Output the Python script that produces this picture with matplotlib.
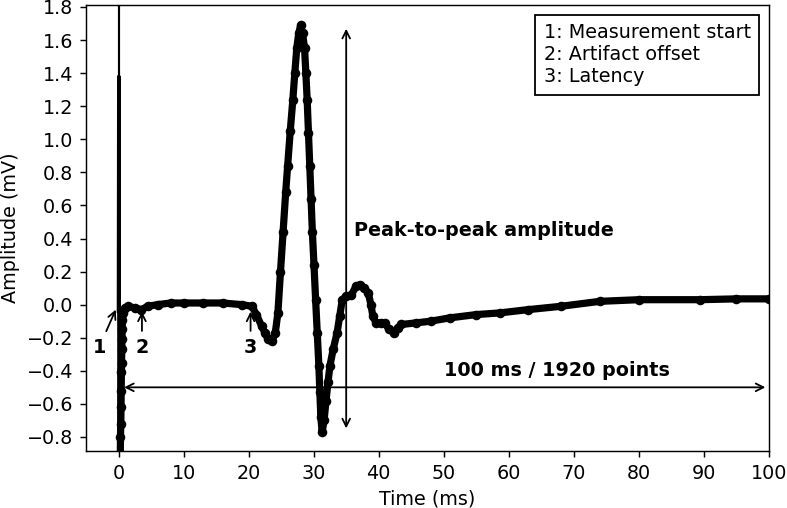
import numpy as np
import matplotlib
matplotlib.use("Agg")
import matplotlib.pyplot as plt
from matplotlib.ticker import MultipleLocator
from matplotlib.offsetbox import AnchoredText

# MEP trace (time in ms, amplitude in mV)
t_ms = [0.0, 0.05, 0.1, 0.2, 0.3, 0.35, 0.38, 0.41, 0.44, 0.47, 0.5, 0.53,
        0.56, 0.6, 0.7, 1.0, 1.5, 2.5, 3.5, 4.5, 6.0, 8.0, 10.0, 13.0, 16.0,
        19.0, 20.5, 21.2, 22.0, 22.5, 23.0, 23.6, 24.1, 24.5, 24.9, 25.3, 25.7,
        26.0, 26.4, 26.8, 27.1, 27.4, 27.7, 28.0, 28.3, 28.6, 28.8, 29.0, 29.2,
        29.4, 29.6, 29.8, 30.05, 30.3, 30.55, 30.8, 30.95, 31.1, 31.3, 31.6,
        31.9, 32.2, 32.5, 33.0, 33.6, 34.0, 34.4, 35.0, 35.8, 36.5, 37.1, 37.8,
        38.4, 38.8, 39.1, 39.6, 40.3, 40.9, 41.6, 42.3, 42.9, 43.5, 45.8, 48.0,
        50.9, 55.0, 58.6, 63.0, 68.0, 74.0, 80.0, 89.4, 95.0, 100.0]
amp_mv = [-0.04, 1.38, -2.0, -1.2, -0.80, -0.72, -0.62, -0.52, -0.41, -0.35,
          -0.27, -0.21, -0.15, -0.09, -0.05, -0.02, -0.01, -0.02, -0.03, -0.01,
          0.0, 0.01, 0.01, 0.01, 0.01, 0.0, -0.01, -0.06, -0.13, -0.17, -0.21,
          -0.22, -0.17, -0.05, 0.2, 0.44, 0.68, 0.84, 1.05, 1.24, 1.40, 1.55,
          1.64, 1.69, 1.64, 1.55, 1.40, 1.24, 1.04, 0.84, 0.64, 0.44, 0.24,
          0.03, -0.17, -0.37, -0.53, -0.68, -0.77, -0.70, -0.58, -0.47, -0.37,
          -0.27, -0.17, -0.07, 0.03, 0.05, 0.06, 0.11, 0.12, 0.10, 0.07, 0.0,
          -0.07, -0.11, -0.11, -0.11, -0.15, -0.17, -0.14, -0.12, -0.11, -0.10,
          -0.08, -0.06, -0.05, -0.03, -0.01, 0.02, 0.03, 0.03, 0.035, 0.035]

legend_text = "1: Measurement start\n2: Artifact offset\n3: Latency"
marks = ["1", "2", "3"]
mark_xy = [(-0.2, -0.01), (3.6, -0.02), (20.3, -0.02)]
mark_text = [(-3.0, -0.26), (3.6, -0.26), (20.3, -0.26)]

plt.rcParams["font.size"] = 10.6

fig = plt.figure(figsize=(787 / 130, 508 / 130), dpi=130)
ax = fig.add_axes([86 / 787, 1 - 451 / 508, (769 - 86) / 787, (451 - 5) / 508])

ax.axvline(0, color="black", lw=1.2)
# artifact spike drawn thinner, the rest as a thick beaded trace
ax.plot(t_ms[:3], amp_mv[:3], color="black", lw=2.0)
ax.plot(t_ms[2:], amp_mv[2:], color="black", lw=4.0, marker="o", ms=4.3,
        solid_joinstyle="round", solid_capstyle="round")

ax.set_xlim(-5, 100)
ax.set_ylim(-0.885, 1.812)
ax.xaxis.set_major_locator(MultipleLocator(10))
ax.yaxis.set_major_locator(MultipleLocator(0.2))
ax.set_xlabel("Time (ms)")
ax.set_ylabel("Amplitude (mV)")

# numbered markers
for m, xy, xt in zip(marks, mark_xy, mark_text):
    ax.annotate(m, xy=xy, xytext=xt, ha="center", va="center",
                fontweight="bold", arrowprops=dict(arrowstyle="->", color="black"))

# peak-to-peak arrow
ax.annotate("", xy=(35, max(amp_mv[10:])), xytext=(35, min(amp_mv[10:])),
            arrowprops=dict(arrowstyle="<->", color="black"))
ax.text(36.2, 0.45, "Peak-to-peak amplitude", ha="left", va="center",
        fontweight="bold")

# record length arrow
ax.annotate("", xy=(0.3, -0.5), xytext=(100, -0.5),
            arrowprops=dict(arrowstyle="<->", color="black"))
ax.text(50, -0.40, "100 ms / 1920 points", ha="left", va="center",
        fontweight="bold")

at = AnchoredText(legend_text, loc="upper right", prop=dict(size=10.6),
                  frameon=True, pad=0.45, borderpad=0.5)
at.patch.set_edgecolor("black")
at.patch.set_linewidth(1.0)
ax.add_artist(at)

fig.savefig("out.png", dpi=130)
